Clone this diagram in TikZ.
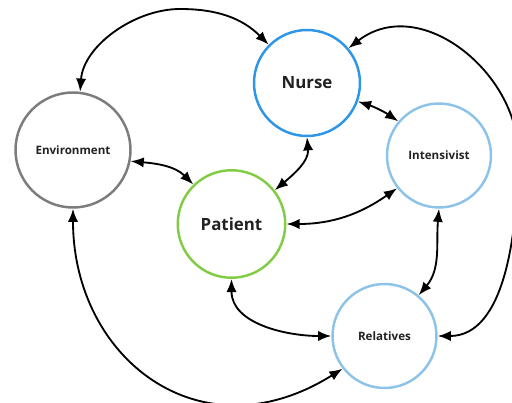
\documentclass[tikz,border=0pt]{standalone}
\usepackage{xcolor}
\usepackage{tikz}
\usetikzlibrary{arrows.meta}
\usepackage{fontspec}
\setmainfont{Open Sans}
\definecolor{nurseblue}{HTML}{2E96E8}
\definecolor{envgray}{HTML}{7C7C7C}
\definecolor{patgreen}{HTML}{82CC44}
\definecolor{lightblue}{HTML}{8DC3E8}
\definecolor{txt}{HTML}{222222}
\tikzset{
  actor/.style={circle, draw, line width=1.4pt, inner sep=0pt, text=txt,
    font=\bfseries\fontsize{6.6}{8}\selectfont},
  bigactor/.style={actor, font=\bfseries\fontsize{9.6}{11}\selectfont},
  link/.style={line width=1.05pt,
    {Latex[length=7.5pt,width=5.8pt]}-{Latex[length=7.5pt,width=5.8pt]}}
}

\begin{document}
\begin{tikzpicture}[x=0.02cm, y=0.02cm]
\useasboundingbox (0,0) rectangle (512,403);
% people
\node[bigactor, nurseblue, minimum size=2.12cm] (nurse) at (307,320) {\color{txt}Nurse};
\node[actor, envgray, minimum size=2.3cm] (env) at (73,253) {\color{txt}Environment};
\node[bigactor, patgreen, minimum size=2.15cm] (patient) at (231.5,179) {\color{txt}Patient};
\node[actor, lightblue, minimum size=2.08cm] (intens) at (439,247.5) {\color{txt}Intensivist};
\node[actor, lightblue, minimum size=2.08cm] (relat) at (384.5,67) {\color{txt}Relatives};
\coordinate (etop) at (180,394);
\coordinate (rloop) at (518,250);
% links
\draw[link] (env.83) to[out=86,in=180,looseness=0.9] (etop)
  to[out=0,in=135] (nurse.135);
\draw[link] (nurse.40) .. controls (420,410) and (518,330) .. (rloop)
  .. controls (518,170) and (505,67) .. (relat.east);
\draw[link] (nurse.-20) to[bend left=8] (intens.140);
\draw[link] (nurse.-90) to[out=-85,in=40] (patient.38);
\draw[link] (env.-11) to[out=-5,in=135] (patient.134);
\draw[link] (patient.east) to[out=0,in=215] (intens.218);
\draw[link] (intens.-90) to[out=-95,in=50] (relat.50);
\draw[link] (patient.-90) to[out=-90,in=180] (relat.west);
\draw[link] (env.south) .. controls (73,45) and (200,-55) .. (relat.218);
\end{tikzpicture}
\end{document}
